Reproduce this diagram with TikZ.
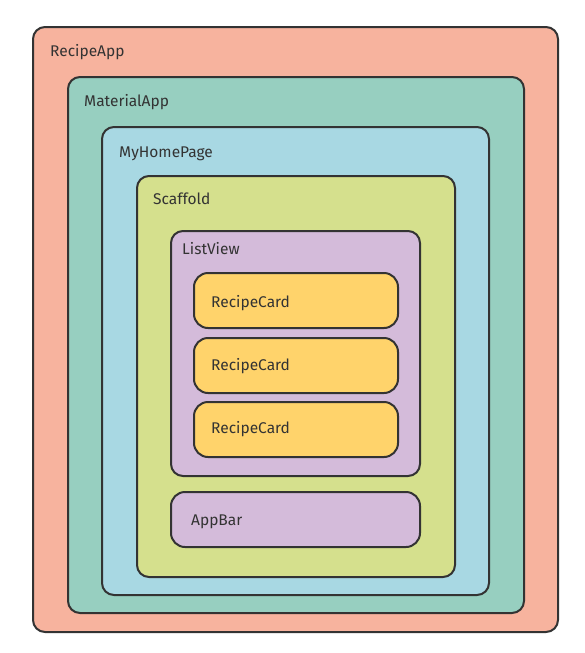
\documentclass[tikz,border=0pt]{standalone}
\usepackage{fontspec}
\setmainfont{Fira Sans}
\usetikzlibrary{positioning}

\definecolor{appred}{HTML}{F7B39E}
\definecolor{matgreen}{HTML}{97CFC0}
\definecolor{homeblue}{HTML}{A8D8E3}
\definecolor{scafgreen}{HTML}{D5E08D}
\definecolor{listpurple}{HTML}{D4BBDA}
\definecolor{cardyellow}{HTML}{FFD36B}
\definecolor{edgegray}{HTML}{333333}

\tikzset{
  box/.style={draw=edgegray, line width=2pt, rounded corners=12pt},
  lbl/.style={anchor=base west, inner sep=0pt, text=edgegray, font=\fontsize{15.5}{18}\selectfont}
}

\begin{document}
\begin{tikzpicture}[x=1pt,y=-1pt]
\useasboundingbox (0,0) rectangle (585,653);

%outer widgets
\draw[box, fill=appred] (33,27) rectangle (558,632);
\node[lbl] (recipeapp) at (50,56.5) {RecipeApp};
\draw[box, fill=matgreen] (68,77) rectangle (524,613);
\node[lbl] (materialapp) at (84,106.5) {MaterialApp};
\draw[box, fill=homeblue] (102,127) rectangle (489,595);
\node[lbl] (myhomepage) at (119,157.5) {MyHomePage};
\draw[box, fill=scafgreen] (137,176) rectangle (455,577);
\node[lbl] (scaffold) at (153,204.5) {Scaffold};

%list
\draw[box, fill=listpurple] (171,231) rectangle (420,476);
\node[lbl] (listview) at (182,254.5) {ListView};
\foreach \y/\t/\n in {273/307.5/1, 338/370.5/2, 402/433.5/3} {
  \draw[box, rounded corners=14pt, fill=cardyellow] (194,\y) rectangle (398,\y+55);
  \node[lbl] (card\n) at (211,\t) {RecipeCard};
}

%app bar
\draw[box, rounded corners=14pt, fill=listpurple] (171,492) rectangle (420,547);
\node[lbl] (appbar) at (191,525.5) {AppBar};

\end{tikzpicture}
\end{document}
